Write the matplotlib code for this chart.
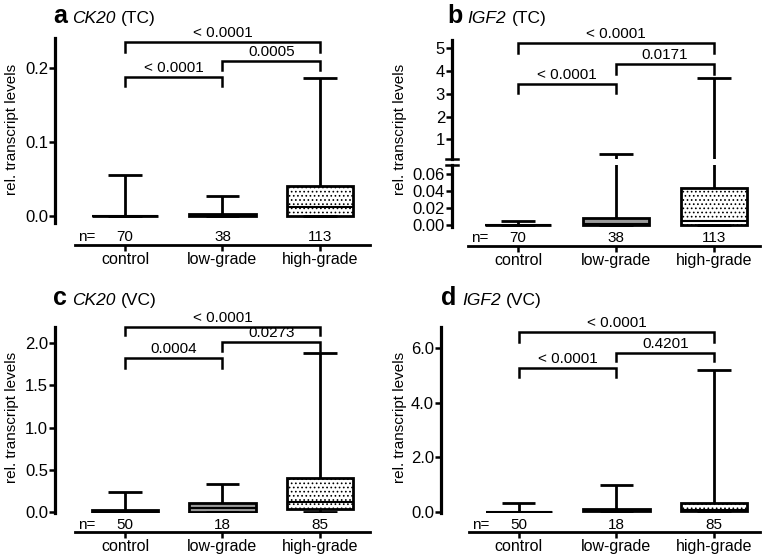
import matplotlib
matplotlib.use("Agg")
import matplotlib.pyplot as plt
from matplotlib.offsetbox import TextArea, HPacker, AnnotationBbox

plt.rcParams['font.family'] = ['Liberation Sans', 'DejaVu Sans']
plt.rcParams['hatch.linewidth'] = 0.7
plt.rcParams['hatch.color'] = 'black'

groups = ['control', 'low-grade', 'high-grade']
pairs = [(0, 1), (1, 2), (0, 2)]

# a - CK20 (TC)
n_a = [70, 38, 113]
a_lo = [0.0, 0.0, 0.0]
a_q1 = [0.0, 0.0, 0.0]
a_med = [0.0, 0.001, 0.012]
a_q3 = [0.0, 0.003, 0.040]
a_hi = [0.055, 0.027, 0.187]
a_p = ['< 0.0001', '0.0005', '< 0.0001']
a_top = [0.188, 0.209, 0.235]
a_leg = [0.176, 0.197, 0.222]

# b - IGF2 (TC), eje cortado
n_b = [70, 38, 113]
b_lo = [0.0, 0.0, 0.0]
b_q1 = [0.0, 0.0, 0.0]
b_med = [0.0, 0.001, 0.005]
b_q3 = [0.0, 0.0086, 0.0435]
b_hi = [0.0047, 0.35, 3.68]
b_p = ['< 0.0001', '0.0171', '< 0.0001']
b_top = [3.43, 4.30, 5.22]
b_leg = [3.02, 3.87, 4.78]

# c - CK20 (VC)
n_c = [50, 18, 85]
c_lo = [0.0, 0.0, 0.0]
c_q1 = [0.0, 0.0, 0.03]
c_med = [0.005, 0.05, 0.11]
c_q3 = [0.02, 0.10, 0.40]
c_hi = [0.24, 0.33, 1.88]
c_p = ['0.0004', '0.0273', '< 0.0001']
c_top = [1.82, 2.01, 2.19]
c_leg = [1.71, 1.91, 2.10]

# d - IGF2 (VC)
n_d = [50, 18, 85]
d_lo = [0.0, 0.02, 0.03]
d_q1 = [0.0, 0.02, 0.03]
d_med = [0.0, 0.06, 0.05]
d_q3 = [0.0, 0.10, 0.33]
d_hi = [0.31, 1.0, 5.2]
d_p = ['< 0.0001', '0.4201', '< 0.0001']
d_top = [5.27, 5.84, 6.6]
d_leg = [4.94, 5.55, 6.25]

W, H = 765, 557
fig = plt.figure(figsize=(W / 100, H / 100), dpi=100)


def rect(left, right, top, bottom):
    # pixeles (desde arriba) -> fracciones de figura
    return [left / W, (H - bottom) / H, (right - left) / W, (bottom - top) / H]


def boxes(ax, lo, q1, med, q3, hi):
    stats = []
    for i in range(3):
        stats.append(dict(whislo=lo[i], q1=q1[i], med=med[i], q3=q3[i], whishi=hi[i]))
    res = ax.bxp(stats, positions=[0, 1, 2], widths=0.68, capwidths=0.34,
                 patch_artist=True, showfliers=False,
                 boxprops=dict(linewidth=2.0, edgecolor='black'),
                 whiskerprops=dict(linewidth=2.0, color='black', solid_capstyle='butt'),
                 capprops=dict(linewidth=2.0, color='black', solid_capstyle='butt'),
                 medianprops=dict(linewidth=1.5, color='black', solid_capstyle='butt'))
    res['boxes'][0].set_facecolor('white')
    res['boxes'][1].set_facecolor('#9a9a9a')
    res['boxes'][2].set_facecolor('white')
    res['boxes'][2].set_hatch('....')
    for b in res['boxes']:
        b.set_joinstyle('miter')


def style(ax):
    ax.spines['top'].set_visible(False)
    ax.spines['right'].set_visible(False)
    ax.spines['left'].set_linewidth(2.3)
    ax.spines['bottom'].set_linewidth(2.0)
    ax.tick_params(axis='y', direction='out', length=4, width=1.8, labelsize=12, pad=1)
    ax.tick_params(axis='x', direction='out', length=4, width=1.8, labelsize=11.5, pad=1)


def xaxis(ax, xl, offset, n, npix):
    ax.set_xlim(*xl)
    ax.spines['bottom'].set_position(('outward', offset))
    ax.spines['bottom'].set_bounds(-0.51, xl[1])
    ax.set_xticks([0, 1, 2])
    ax.set_xticklabels(groups)
    ax.annotate('n=', xy=(-0.39, 0), xycoords=('data', 'axes fraction'),
                xytext=(0, npix), textcoords='offset pixels',
                ha='center', va='center', fontsize=11)
    for i in range(3):
        ax.annotate(str(n[i]), xy=(i, 0), xycoords=('data', 'axes fraction'),
                    xytext=(0, npix), textcoords='offset pixels',
                    ha='center', va='center', fontsize=11)


def brackets(ax, top, leg, labels):
    for k, (i, j) in enumerate(pairs):
        ax.plot([i, i, j, j], [leg[k], top[k], top[k], leg[k]], color='black',
                lw=1.8, clip_on=False, solid_joinstyle='miter')
        ax.annotate(labels[k], xy=((i + j) / 2, top[k]), xytext=(0, 2),
                    textcoords='offset pixels', ha='center', va='bottom',
                    fontsize=11, annotation_clip=False)


def title(letter, gene, tag, x, y):
    parts = [TextArea(letter, textprops=dict(fontsize=18, fontweight='bold')),
             TextArea(gene, textprops=dict(fontsize=12.5, fontstyle='italic')),
             TextArea(tag, textprops=dict(fontsize=12.5))]
    pack = HPacker(children=parts, align='baseline', pad=0, sep=4)
    ab = AnnotationBbox(pack, (x, H - y), xycoords='figure pixels',
                        box_alignment=(0, 0), frameon=False, pad=0)
    fig.add_artist(ab)


def ylab(x, y):
    fig.text(x / W, (H - y) / H, 'rel. transcript levels', rotation=90,
             ha='center', va='center', fontsize=11)


# panel a
ax = fig.add_axes(rect(55, 370, 38, 223))
boxes(ax, a_lo, a_q1, a_med, a_q3, a_hi)
style(ax)
ax.set_ylim(-0.0095, 0.2405)
ax.set_yticks([0.0, 0.1, 0.2])
ax.set_yticklabels(['0.0', '0.1', '0.2'])
xaxis(ax, (-0.718, 2.513), 16, n_a, -14)
brackets(ax, a_top, a_leg, a_p)
title('a', 'CK20', '(TC)', 53, 28)
ylab(12, 129)

# panel b, parte superior
axu = fig.add_axes(rect(452, 760, 40, 159))
boxes(axu, b_lo, b_q1, b_med, b_q3, b_hi)
style(axu)
axu.spines['bottom'].set_visible(False)
axu.set_xlim(-0.673, 2.47)
axu.set_xticks([])
axu.set_ylim(0.134, 5.365)
axu.set_yticks([1, 2, 3, 4, 5])
brackets(axu, b_top, b_leg, b_p)
axu.plot([-0.018, 0.018], [0, 0], transform=axu.transAxes, color='black',
         lw=1.8, clip_on=False)

# panel b, parte inferior
axl = fig.add_axes(rect(452, 760, 165, 227))
boxes(axl, b_lo, b_q1, b_med, b_q3, b_hi)
style(axl)
axl.set_ylim(-0.0023, 0.0702)
axl.set_yticks([0.0, 0.02, 0.04, 0.06])
axl.set_yticklabels(['0.00', '0.02', '0.04', '0.06'])
xaxis(axl, (-0.673, 2.47), 14, n_b, -11)
axl.plot([-0.018, 0.018], [1, 1], transform=axl.transAxes, color='black',
         lw=1.8, clip_on=False)
title('b', 'IGF2', '(TC)', 447, 28)
ylab(400, 129)

# panel c
ax = fig.add_axes(rect(55, 370, 327, 513))
boxes(ax, c_lo, c_q1, c_med, c_q3, c_hi)
style(ax)
ax.set_ylim(-0.015, 2.194)
ax.set_yticks([0.0, 0.5, 1.0, 1.5, 2.0])
ax.set_yticklabels(['0.0', '0.5', '1.0', '1.5', '2.0'])
xaxis(ax, (-0.718, 2.513), 14, n_c, -12)
brackets(ax, c_top, c_leg, c_p)
title('c', 'CK20', '(VC)', 53, 310)
ylab(12, 417)

# panel d
ax = fig.add_axes(rect(441, 760, 327, 513))
boxes(ax, d_lo, d_q1, d_med, d_q3, d_hi)
style(ax)
ax.set_ylim(-0.047, 6.79)
ax.set_yticks([0.0, 2.0, 4.0, 6.0])
ax.set_yticklabels(['0.0', '2.0', '4.0', '6.0'])
xaxis(ax, (-0.796, 2.47), 14, n_d, -12)
brackets(ax, d_top, d_leg, d_p)
title('d', 'IGF2', '(VC)', 441, 310)
ylab(400, 417)

fig.savefig('out.png', dpi=100)
